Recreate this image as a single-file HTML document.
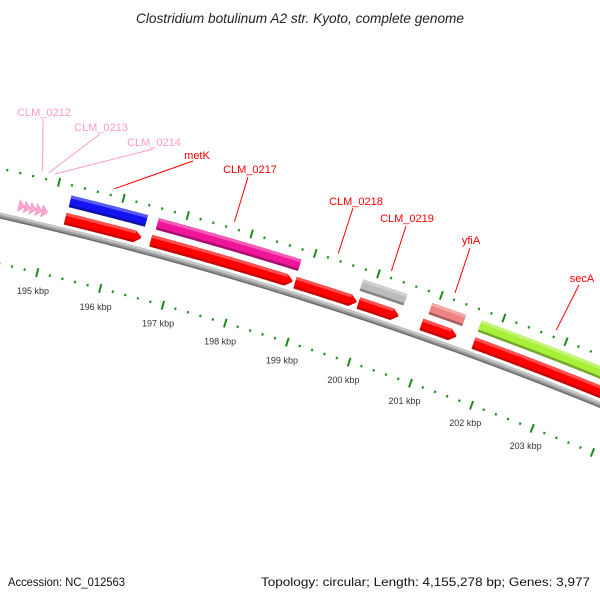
<!DOCTYPE html>
<html><head><meta charset="utf-8"><style>
html,body{margin:0;padding:0;background:#fff;}
svg{display:block;}
text{font-family:"Liberation Sans","DejaVu Sans",sans-serif;}
</style></head><body>
<svg id="map" width="600" height="600" viewBox="0 0 600 600" xmlns="http://www.w3.org/2000/svg">
<rect width="600" height="600" fill="#fff"/>
<text x="300" y="23" text-anchor="middle" font-size="14" font-style="italic" fill="#222" textLength="328" lengthAdjust="spacingAndGlyphs">Clostridium botulinum A2 str. Kyoto, complete genome</text>
<g id="ticks"></g>
<g id="backbone"></g>
<g id="features"></g>
<g id="labels"></g>
<text x="8" y="586" font-size="12" fill="#111" textLength="117" lengthAdjust="spacingAndGlyphs">Accession: NC_012563</text>
<text x="261" y="586" font-size="12" fill="#111" textLength="329" lengthAdjust="spacingAndGlyphs">Topology: circular; Length: 4,155,278 bp; Genes: 3,977</text>
</svg>
<script>
// ---- data ----
const cdsStart = [195.22, 196.56, 198.84, 199.85, 200.86, 201.70];
const cdsEnd   = [196.41, 198.80, 199.82, 200.49, 201.42, 206.00];
const cogNames = ['metK', 'CLM_0217', 'CLM_0219', 'yfiA', 'secA'];
const cogStart = [195.23, 196.59, 199.81, 200.91, 201.70];
const cogEnd   = [196.42, 198.83, 200.51, 201.45, 206.00];
const cogColors = ['#1414f0', '#f0169a', '#bcbcbc', '#f08484', '#a8f03a'];
const smallStart = [194.49, 194.58, 194.67, 194.76, 194.85];
const smallEnd   = [194.58, 194.67, 194.76, 194.85, 194.94];
const tickLabels = [195, 196, 197, 198, 199, 200, 201, 202, 203];
const geneLabelNames = ['CLM_0212','CLM_0213','CLM_0214','metK','CLM_0217','CLM_0218','CLM_0219','yfiA','secA'];
const geneLabelPos = [194.72, 194.82, 194.91, 195.83, 197.70, 199.33, 200.17, 201.18, 202.80];
// ---- geometry ----
const CX = -866, CY = 4009;
const TH0 = -76.41, DEG_PER_KBP = 0.9675;
const NS = 'http://www.w3.org/2000/svg';
function ang(k){ return (TH0 + DEG_PER_KBP*(k-195))*Math.PI/180; }
function pt(k, r){ const a = ang(k); return [CX + r*Math.cos(a), CY + r*Math.sin(a)]; }
function arcPts(k1,k2,r){ const out=[]; const n=Math.max(2,Math.ceil((k2-k1)*20)); for(let i=0;i<=n;i++){ out.push(pt(k1+(k2-k1)*i/n,r)); } return out; }
function bandPath(k1,k2,r1,r2){ const a=arcPts(k1,k2,r2), b=arcPts(k1,k2,r1).reverse(); return 'M'+a.concat(b).map(p=>p[0].toFixed(2)+','+p[1].toFixed(2)).join('L')+'Z'; }
function arrowPath(k1,k2,r1,r2,head){ const ks=Math.max(k1,k2-head); const a=arcPts(k1,ks,r2); const tip=pt(k2,(r1+r2)/2); const b=arcPts(k1,ks,r1).reverse(); return 'M'+a.concat([tip]).concat(b).map(p=>p[0].toFixed(2)+','+p[1].toFixed(2)).join('L')+'Z'; }
function mk(tag, parent, attrs){ const e=document.createElementNS(NS,tag); for(const k in attrs) e.setAttribute(k, attrs[k]); parent.appendChild(e); return e; }
function shade(hex, f){ const n=parseInt(hex.slice(1),16); let r=n>>16,g=(n>>8)&255,b=n&255; if(f>0){r+= (255-r)*f; g+=(255-g)*f; b+=(255-b)*f;} else {r*=1+f; g*=1+f; b*=1+f;} return 'rgb('+Math.round(r)+','+Math.round(g)+','+Math.round(b)+')'; }

const gT = document.getElementById('ticks'), gB = document.getElementById('backbone'), gF = document.getElementById('features'), gL = document.getElementById('labels');

// ticks
for (let i = Math.round(194.0*5); i <= Math.round(205*5); i++) {
  const k = i/5; const major = (i % 5 === 0);
  [3937, 3844].forEach(function(r){
    const len = major ? 4.5 : 1.2;
    const p1 = pt(k, r-len), p2 = pt(k, r+len);
    const t = mk('line', gT, {x1:p1[0], y1:p1[1], x2:p2[0], y2:p2[1], stroke:'#1d8a1d', 'stroke-width': 2});
    
    
  });
}
tickLabels.forEach(function(v){
  const p = pt(v, 3826);
  const t = mk('text', gT, {x:p[0], y:p[1]+4, 'text-anchor':'middle', 'font-size':'9', fill:'#333'});
  t.textContent = v + ' kbp';
  
  
});

// backbone
const bb1 = mk('path', gB, {d: bandPath(193.5, 206.5, 3888, 3894), fill:'#999'});


const bb2 = mk('path', gB, {d: bandPath(193.5, 206.5, 3891.5, 3894), fill:'#c4c4c4'});


const bb3 = mk('path', gB, {d: bandPath(193.5, 206.5, 3888, 3889.5), fill:'#6e6e6e'});



// CDS (forward strand, red arrows)
cdsStart.forEach(function(s, i){
  const e = cdsEnd[i];
  const g = mk('g', gF, {});
  
  
  mk('path', g, {d: arrowPath(s, e, 3897, 3909, 0.1), fill:'#c80000'});
  mk('path', g, {d: arrowPath(s, e, 3899.5, 3909, 0.1), fill:'#ff0000'});
  mk('path', g, {d: bandPath(s, Math.max(s, e-0.1), 3906, 3909), fill:'#ff5050'});
});
// small pink genes
smallStart.forEach(function(s, i){
  const e = smallEnd[i];
  const p = mk('path', gF, {d: arrowPath(s, e, 3899, 3911, 0.09), fill:'#ffa6d2', stroke:'#f080b8', 'stroke-width':'0.5'});
  
  
});
// COG colored track
cogStart.forEach(function(s, i){
  const e = cogEnd[i], c = cogColors[i];
  const g = mk('g', gF, {});
  
  
  mk('path', g, {d: bandPath(s, e, 3915, 3927), fill: shade(c, -0.3)});
  mk('path', g, {d: bandPath(s, e, 3917.5, 3927), fill: c});
  mk('path', g, {d: bandPath(s, e, 3924, 3927), fill: shade(c, 0.3)});
});

// gene labels
const labelXY = [[44,112],[101,127],[154,142],[197,155],[250,169],[356,201],[407,218],[471,240],[582,278]];
const labelColors = ['#ff99cc','#ff99cc','#ff99cc','#ff0000','#ff0000','#ff0000','#ff0000','#ff0000','#ff0000'];
const lineEnds = [[43,119],[100,134],[153,149],[193,161],[248,177],[353,208],[406,226],[470,248],[579,285]];
geneLabelNames.forEach(function(n, i){
  const p = pt(geneLabelPos[i], 3944);
  const l = mk('line', gL, {x1:p[0], y1:p[1], x2:lineEnds[i][0], y2:lineEnds[i][1], stroke:labelColors[i], 'stroke-width':'1'});
  
  
  const t = mk('text', gL, {x:labelXY[i][0], y:labelXY[i][1]+4, 'text-anchor':'middle', 'font-size':'11', fill:labelColors[i]});
  t.textContent = n;
  
  
});
</script>
</body></html>
